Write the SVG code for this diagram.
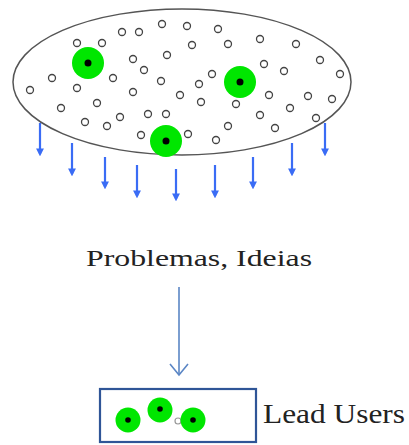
<svg xmlns="http://www.w3.org/2000/svg" width="409" height="445" viewBox="0 0 409 445">
<defs>
<style>
.dot{fill:#fff;stroke:#444;stroke-width:1.3}
.green{fill:#00e600}
.core{fill:#000}
.blue{stroke:#3a6cf5;stroke-width:2.2;fill:none}
.txt{font-family:"Liberation Serif","Times New Roman",serif;fill:#222}
</style>
<marker id="ah" viewBox="0 0 10 10" refX="7" refY="5" markerWidth="3.6" markerHeight="4" orient="auto" markerUnits="strokeWidth">
<path d="M0,0 L10,5 L0,10 Z" fill="#3a6cf5"/>
</marker>
</defs>
<rect width="409" height="445" fill="#fff"/>
<g id="population">
<ellipse cx="182" cy="82" rx="169" ry="73" fill="#fff" stroke="#555" stroke-width="1.5"/>
<g id="small-dots">
<circle class="dot" cx="122" cy="32" r="3.5"/><circle class="dot" cx="139" cy="32" r="3.5"/>
<circle class="dot" cx="162" cy="24" r="3.5"/><circle class="dot" cx="187" cy="26" r="3.5"/>
<circle class="dot" cx="77" cy="43" r="3.5"/><circle class="dot" cx="102" cy="43" r="3.5"/>
<circle class="dot" cx="192" cy="45" r="3.5"/><circle class="dot" cx="133" cy="59" r="3.5"/>
<circle class="dot" cx="167" cy="55" r="3.5"/><circle class="dot" cx="144" cy="70" r="3.5"/>
<circle class="dot" cx="52" cy="78" r="3.5"/><circle class="dot" cx="113" cy="78" r="3.5"/>
<circle class="dot" cx="161" cy="81" r="3.5"/><circle class="dot" cx="199" cy="84" r="3.5"/>
<circle class="dot" cx="30" cy="90" r="3.5"/><circle class="dot" cx="77" cy="88" r="3.5"/>
<circle class="dot" cx="133" cy="92" r="3.5"/><circle class="dot" cx="180" cy="95" r="3.5"/>
<circle class="dot" cx="201" cy="102" r="3.5"/><circle class="dot" cx="61" cy="108" r="3.5"/>
<circle class="dot" cx="97" cy="103" r="3.5"/><circle class="dot" cx="85" cy="122" r="3.5"/>
<circle class="dot" cx="107" cy="126" r="3.5"/><circle class="dot" cx="120" cy="117" r="3.5"/>
<circle class="dot" cx="148" cy="114" r="3.5"/><circle class="dot" cx="166" cy="114" r="3.5"/>
<circle class="dot" cx="141" cy="135" r="3.5"/><circle class="dot" cx="188" cy="134" r="3.5"/>
<circle class="dot" cx="218" cy="29" r="3.5"/><circle class="dot" cx="228" cy="44" r="3.5"/>
<circle class="dot" cx="260" cy="39" r="3.5"/><circle class="dot" cx="296" cy="44" r="3.5"/>
<circle class="dot" cx="320" cy="60" r="3.5"/><circle class="dot" cx="264" cy="64" r="3.5"/>
<circle class="dot" cx="284" cy="71" r="3.5"/><circle class="dot" cx="212" cy="74" r="3.5"/>
<circle class="dot" cx="340" cy="74" r="3.5"/><circle class="dot" cx="269" cy="95" r="3.5"/>
<circle class="dot" cx="308" cy="96" r="3.5"/><circle class="dot" cx="332" cy="99" r="3.5"/>
<circle class="dot" cx="236" cy="104" r="3.5"/><circle class="dot" cx="290" cy="108" r="3.5"/>
<circle class="dot" cx="260" cy="115" r="3.5"/><circle class="dot" cx="228" cy="126" r="3.5"/>
<circle class="dot" cx="275" cy="128" r="3.5"/><circle class="dot" cx="316" cy="118" r="3.5"/>
<circle class="dot" cx="216" cy="140" r="3.5"/>
</g>
<g id="lead-dots">
<circle class="green" cx="88" cy="63" r="16"/><circle class="core" cx="88" cy="63" r="3.5"/>
<circle class="green" cx="240" cy="82" r="16"/><circle class="core" cx="240" cy="82" r="3.5"/>
<circle class="green" cx="166" cy="141" r="16"/><circle class="core" cx="166" cy="141" r="3.5"/>
</g>
</g>
<g id="connectors">
<g class="blue" marker-end="url(#ah)">
<line x1="40" y1="123" x2="40" y2="154"/>
<line x1="72" y1="143" x2="72" y2="174"/>
<line x1="105" y1="157" x2="105" y2="187"/>
<line x1="137" y1="165" x2="137" y2="196"/>
<line x1="176" y1="169" x2="176" y2="199"/>
<line x1="215" y1="165" x2="215" y2="196"/>
<line x1="253" y1="157" x2="253" y2="187"/>
<line x1="292" y1="143" x2="292" y2="174"/>
<line x1="325" y1="123" x2="325" y2="154"/>
</g>
<g id="flow-arrow" stroke="#5b86c5" stroke-width="1.6" fill="none">
<line x1="179" y1="287" x2="179" y2="375"/>
<polyline points="170,364 179,375 188,364"/>
</g>
</g>
<g id="label-problemas">
<text class="txt" x="86" y="266" font-size="24" textLength="226" lengthAdjust="spacingAndGlyphs">Problemas, Ideias</text>
</g>
<g id="lead-users">
<rect x="100" y="389" width="156" height="53" fill="#fff" stroke="#2f5597" stroke-width="2.2"/>
<circle cx="178" cy="421" r="3" fill="#fff" stroke="#999" stroke-width="1.2"/>
<circle class="green" cx="128" cy="420" r="12.5"/><circle class="core" cx="128" cy="420" r="2.8"/>
<circle class="green" cx="160" cy="410" r="12.5"/><circle class="core" cx="160" cy="409" r="2.8"/>
<circle class="green" cx="193" cy="420" r="12.5"/><circle class="core" cx="193" cy="420" r="2.8"/>
<text class="txt" x="263" y="423" font-size="27" textLength="142" lengthAdjust="spacingAndGlyphs">Lead Users</text>
</g>
</svg>
